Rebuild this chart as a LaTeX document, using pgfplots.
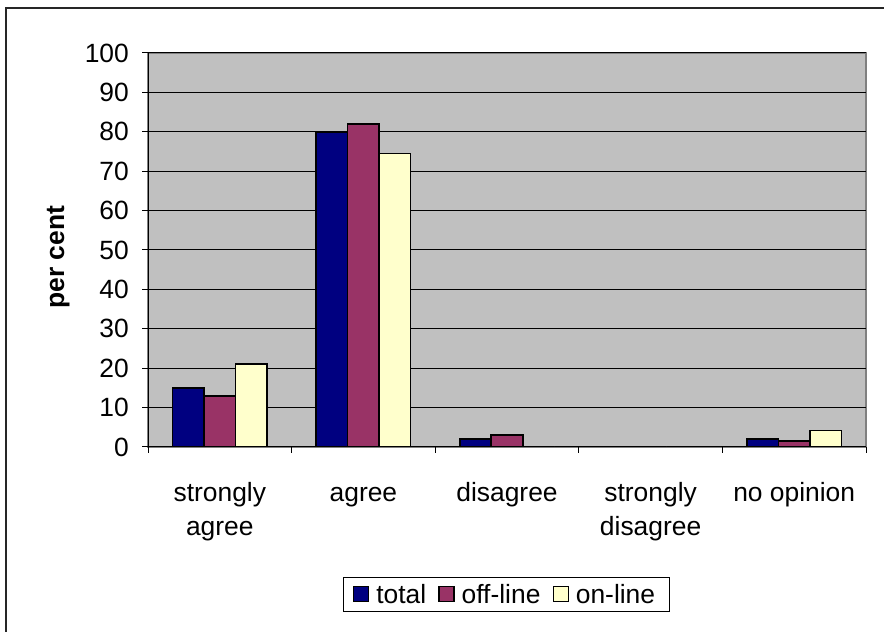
\documentclass[border=0pt]{standalone}
\usepackage{pgfplots}
\pgfplotsset{compat=1.18}
\usepackage{fontspec}
\setmainfont{Liberation Sans}

\definecolor{plotgray}{HTML}{C0C0C0}
\definecolor{totalc}{HTML}{000080}
\definecolor{offc}{HTML}{993366}
\definecolor{onc}{HTML}{FFFFCC}

\begin{document}
\begin{tikzpicture}[x=1bp,y=1bp,font=\fontsize{26.5}{31}\selectfont]
\useasboundingbox (0,0) rectangle (884,632);
% outer chart frame
\draw[line width=1.6bp, black!85] (6,-10) -- (6,624) -- (900,624);
\begin{axis}[
  at={(148bp,185bp)}, anchor=south west,
  scale only axis, width=718bp, height=394bp,
  xmin=-0.5, xmax=4.5, ymin=0, ymax=100,
  ybar=0pt, bar width=31.5bp,
  axis lines*=left,
  axis line style={black, line width=1bp},
  axis background/.style={fill=plotgray, draw=black!50, line width=1.2bp},
  tick align=outside, major tick length=6bp,
  tick style={black, line width=1bp},
  ytick={0,10,...,100},
  ymajorgrids, grid style={black, line width=1bp},
  xtick={-0.5,0.5,...,4.5}, xticklabels={},
  extra x ticks={0,1,2,3,4},
  extra x tick labels={\strut strongly\\agree, \strut agree, \strut disagree, \strut strongly\\disagree, \strut no opinion},
  extra x tick style={major tick length=0pt, grid=none},
  xticklabel style={align=center, anchor=north, inner sep=0pt, yshift=-31bp,
    font=\fontsize{26.5}{34}\selectfont},
  yticklabel style={anchor=east, inner sep=0pt, xshift=-13bp},
  /pgf/number format/assume math mode=true,
  ylabel={\bfseries per cent},
  ylabel style={at={(rel axis cs:-0.125,0.482)}, anchor=center},
  legend style={at={(rel axis cs:0.271,-0.329)}, anchor=north west, legend cell align=left,
    draw=black, line width=0.8bp, fill=white, inner xsep=7bp, inner ysep=5bp,
    legend columns=3, /tikz/every even column/.append style={column sep=2bp},
    nodes={inner xsep=7bp}},
  legend image code/.code={\path (0bp,0bp); \draw[#1, line width=1.2bp] (3bp,-7bp) rectangle (18bp,8bp);},
]
\addplot[fill=totalc, draw=black, line width=1.6bp] coordinates {(0,15) (1,80) (2,2) (3,0) (4,2)};
\addplot[fill=offc, draw=black, line width=1.6bp] coordinates {(0,13) (1,82) (2,3) (3,0) (4,1.5)};
\addplot[fill=onc, draw=black, line width=1.6bp] coordinates {(0,21) (1,74.5) (2,0) (3,0) (4,4.2)};
\legend{total, off-line, on-line}
\end{axis}
\end{tikzpicture}
\end{document}
